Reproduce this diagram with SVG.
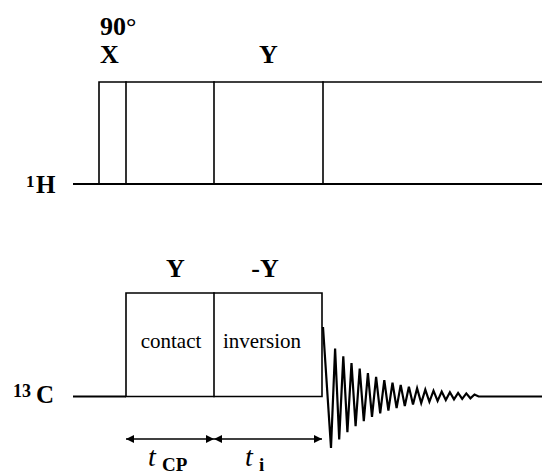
<svg xmlns="http://www.w3.org/2000/svg" width="542" height="476" viewBox="0 0 542 476">
<style>
.ln{fill:none;stroke:#000;stroke-width:1.6;stroke-linecap:square}
.base{fill:none;stroke:#000;stroke-width:2}
.lbl{font-family:"Liberation Serif","DejaVu Serif","Times New Roman",Times,serif;font-weight:bold;fill:#000}
.box{font-family:"Liberation Serif","DejaVu Serif","Times New Roman",Times,serif;font-size:21px;fill:#000;text-anchor:middle}
.it{font-family:"Liberation Serif","DejaVu Serif","Times New Roman",Times,serif;font-style:italic;font-size:28px;fill:#000}
</style>
<defs>
<marker id="ah" viewBox="0 0 8 8" refX="8" refY="4" markerWidth="8" markerHeight="8" markerUnits="userSpaceOnUse" orient="auto-start-reverse">
<path d="M0,0 L8,4 L0,8 Z" fill="#000"/>
</marker>
</defs>
<rect width="542" height="476" fill="#fff"/>

<g id="h-channel">
<text class="lbl" x="26" y="187" font-size="17">1</text>
<text class="lbl" x="36" y="193" font-size="25">H</text>
<path class="base" d="M73,184 H542"/>
<path class="ln" d="M99,184 V82 H542"/>
<path class="ln" d="M126,82 V184"/>
<path class="ln" d="M214,82 V184"/>
<path class="ln" d="M323,82 V184"/>
<text class="lbl" x="100" y="35" font-size="26">90°</text>
<text class="lbl" x="100" y="63" font-size="26">X</text>
<text class="lbl" x="268.5" y="63" font-size="26" text-anchor="middle">Y</text>
</g>

<g id="c-channel">
<text class="lbl" x="13" y="397" font-size="18">13</text>
<text class="lbl" x="36" y="403" font-size="25">C</text>
<path class="base" d="M73,396.5 H126"/>
<path class="ln" d="M126,396.5 V293 H322 V396.5 H126"/>
<path class="ln" d="M214,293 V396.5"/>
<text class="lbl" x="175.5" y="277" font-size="26" text-anchor="middle">Y</text>
<text class="lbl" x="265" y="277" font-size="26" text-anchor="middle">-Y</text>
<text class="box" x="171" y="348">contact</text>
<text class="box" x="262" y="348">inversion</text>
</g>

<g id="fid">
<path fill="none" stroke="#000" stroke-width="2.2" stroke-linejoin="miter" d="M323,327 L331,448 L335.1,348.5 L339.2,439.4 L343.3,356.4 L347.4,432.1 L351.5,363 L355.6,426.1 L359.7,368.5 L363.8,421.1 L367.9,373.1 L372,416.9 L376.1,376.9 L380.2,413.4 L384.3,380.1 L388.4,410.5 L392.5,382.7 L396.6,408.1 L400.7,384.9 L404.8,406.1 L408.9,386.8 L413,404.4 L417.1,388.3 L421.2,403 L425.3,389.6 L429.4,401.8 L433.5,390.7 L437.6,400.9 L441.7,391.6 L445.8,400.1 L449.9,392.3 L454,399.4 L458.1,392.9 L462.2,398.8 L466.3,393.4 L470.4,398.3 L474.5,394.5 L478.6,396.5 H542"/>
</g>

<g id="connectors">
<path class="ln" d="M126,439 H214" marker-start="url(#ah)" marker-end="url(#ah)" style="stroke-linecap:butt"/>
<path class="ln" d="M214,439 H322" marker-start="url(#ah)" marker-end="url(#ah)" style="stroke-linecap:butt"/>
</g>

<g id="time-labels">
<text class="it" x="148" y="466">t</text>
<text class="lbl" x="162" y="471" font-size="19">CP</text>
<text class="it" x="245" y="466">t</text>
<text class="lbl" x="259" y="471" font-size="19">i</text>
</g>
</svg>
